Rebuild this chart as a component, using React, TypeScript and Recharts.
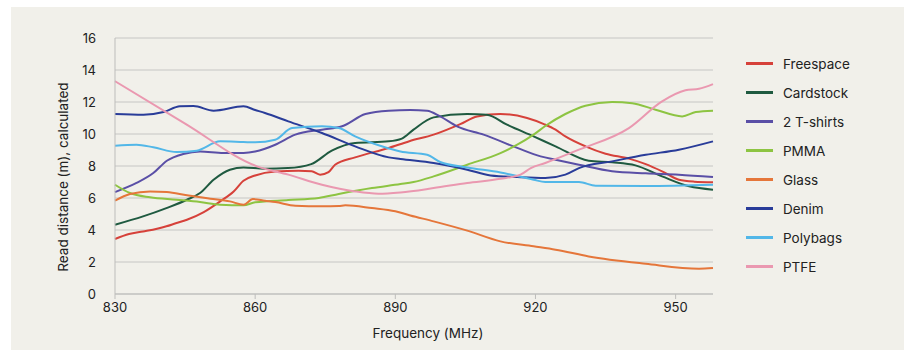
import { LineChart, Line, XAxis, YAxis, CartesianGrid, Legend } from 'recharts';

// [frequency MHz, read distance m]
const freespace: [number, number][] = [
  [830, 3.44], [833, 3.75], [836, 3.91], [839, 4.08], [841, 4.23], [843, 4.42], [845.4, 4.64], [849, 5.12],
  [852.5, 5.79], [855.4, 6.41], [857.5, 7.08], [860, 7.41], [864.3, 7.66], [869.3, 7.71], [872.1, 7.67],
  [873.9, 7.46], [875.7, 7.62], [877.1, 8.08], [881.4, 8.54], [888.6, 9.13], [893, 9.55], [898.2, 9.96],
  [903.9, 10.62], [907.5, 11.1], [912.5, 11.25], [918.2, 11.0], [921.8, 10.62], [924.3, 10.27], [926.4, 9.85],
  [930.7, 9.23], [935, 8.77], [940, 8.46], [943.6, 8.12], [947.1, 7.67], [950.7, 7.14], [954, 7.02], [958, 6.98],
];

const cardstock: [number, number][] = [
  [830, 4.33], [836, 4.85], [841, 5.37], [845.4, 5.89], [848.2, 6.31], [851.1, 7.14], [854.6, 7.77], [857.5, 7.91],
  [862, 7.83], [867, 7.87], [872, 8.12], [876.4, 8.96], [881.4, 9.44], [888.6, 9.54], [891.4, 9.71], [893.9, 10.27],
  [898.2, 11.04], [905.4, 11.25], [909.6, 11.21], [913.9, 10.58], [919.6, 9.85], [924.3, 9.23], [931.4, 8.33],
  [936.4, 8.23], [941.4, 8.04], [947.1, 7.35], [952.9, 6.73], [958, 6.52],
];

const tshirts: [number, number][] = [
  [830, 6.37], [834.6, 6.94], [838.2, 7.56], [841.1, 8.33], [844.6, 8.75], [848.2, 8.91], [853.2, 8.81],
  [857.5, 8.81], [860, 8.9], [862.1, 9.08], [864.3, 9.33], [868.6, 9.96], [874.3, 10.27], [878.6, 10.48],
  [883.6, 11.25], [888.6, 11.46], [893.2, 11.5], [896.8, 11.46], [899.6, 11.1], [903.2, 10.48], [908.9, 9.96],
  [916.1, 9.13], [921.1, 8.6], [924.3, 8.39], [929.3, 8.08], [936.4, 7.67], [943.6, 7.54], [950.7, 7.46], [958, 7.31],
];

const pmma: [number, number][] = [
  [830, 6.83], [833.2, 6.31], [837.5, 6.04], [843.2, 5.89], [848.2, 5.75], [852.5, 5.58], [857.5, 5.54], [860, 5.73],
  [867.1, 5.87], [873.6, 6.0], [877.9, 6.25], [885, 6.62], [891.1, 6.87], [893.9, 7.0], [898.2, 7.35], [905.4, 8.08],
  [912.5, 8.81], [916.1, 9.33], [919.6, 9.96], [922.1, 10.5], [926.4, 11.25], [930.7, 11.77], [936.4, 12.0],
  [940.7, 11.92], [945.7, 11.52], [951.4, 11.1], [954.3, 11.37], [958, 11.46],
];

const glass: [number, number][] = [
  [830, 5.83], [833.2, 6.25], [837.5, 6.41], [841.1, 6.37], [845.4, 6.17], [850.4, 5.96], [854.6, 5.79],
  [857.5, 5.58], [859.5, 5.93], [862.1, 5.83], [864.3, 5.75], [868.6, 5.52], [874.3, 5.48], [877.9, 5.5],
  [879.3, 5.54], [885, 5.37], [890, 5.17], [893.2, 4.91], [898.2, 4.54], [905.4, 3.96], [912.5, 3.29],
  [919.6, 2.98], [924.3, 2.77], [931.4, 2.35], [943.6, 1.89], [955, 1.58], [958, 1.62],
];

const denim: [number, number][] = [
  [830, 11.25], [836.1, 11.2], [840.4, 11.37], [843.9, 11.73], [846.8, 11.75], [851.1, 11.46], [857.5, 11.73],
  [860, 11.5], [862.1, 11.31], [867.1, 10.79], [874.3, 10.06], [881.4, 9.23], [888.6, 8.54], [891.1, 8.44],
  [898.2, 8.19], [905.4, 7.77], [910.4, 7.41], [916.1, 7.31], [922.1, 7.25], [926.4, 7.46], [929.3, 7.87],
  [936.4, 8.29], [943.6, 8.7], [950.7, 9.02], [958, 9.54],
];

const polybags: [number, number][] = [
  [830, 9.27], [834.6, 9.33], [838.2, 9.17], [843.2, 8.87], [847.5, 8.96], [852.5, 9.54], [857.5, 9.5], [860, 9.48],
  [864.3, 9.64], [867.9, 10.37], [874.3, 10.48], [877.9, 10.37], [881.4, 9.85], [887.1, 9.23], [891.1, 8.91],
  [896.8, 8.7], [899.6, 8.25], [905.4, 7.91], [912.5, 7.6], [919.6, 7.14], [922.1, 7.0], [929.3, 7.0],
  [932.9, 6.77], [943.6, 6.75], [958, 6.83],
];

const ptfe: [number, number][] = [
  [830, 13.3], [845, 10.65], [860.4, 7.98], [867.1, 7.46], [874.3, 6.83], [881.4, 6.41], [886.4, 6.27],
  [891.1, 6.35], [898.2, 6.62], [905.4, 6.94], [912.5, 7.2], [916.8, 7.46], [919, 7.87], [922.1, 8.19],
  [929.3, 9.02], [940, 10.37], [947.1, 12.04], [952.1, 12.73], [955, 12.83], [958, 13.12],
];

const series = [
  { name: 'Freespace', color: '#d6413a', points: freespace },
  { name: 'Cardstock', color: '#1f5a40', points: cardstock },
  { name: '2 T-shirts', color: '#5a4fa6', points: tshirts },
  { name: 'PMMA', color: '#8dc442', points: pmma },
  { name: 'Glass', color: '#e5763a', points: glass },
  { name: 'Denim', color: '#293c99', points: denim },
  { name: 'Polybags', color: '#52b7e8', points: polybags },
  { name: 'PTFE', color: '#ea98b0', points: ptfe },
];

const xTicks = [830, 860, 890, 920, 950];
const yTicks = [0, 2, 4, 6, 8, 10, 12, 14, 16];

const FONT = 'Inter, "Noto Sans", sans-serif';

function LegendBox() {
  return (
    <div style={{ fontFamily: FONT }}>
      {series.map((s) => (
        <div key={s.name} style={{ height: 29, display: 'flex', alignItems: 'center' }}>
          <span style={{ display: 'inline-block', width: 27, height: 2.5, background: s.color, marginRight: 10 }} />
          <span style={{ fontSize: 13.5, color: '#222' }}>{s.name}</span>
        </div>
      ))}
    </div>
  );
}

export default function App() {
  return (
    <div style={{ position: 'absolute', left: 11, top: 7, width: 893, height: 343, background: '#f1f0ea' }}>
      <LineChart width={893} height={343} margin={{ top: 31, right: 191, bottom: 26, left: 0 }}>
        <CartesianGrid vertical={false} stroke="#c6c6c4" strokeWidth={1} />
        <XAxis
          type="number"
          dataKey="f"
          domain={[830, 958]}
          ticks={xTicks}
          allowDuplicatedCategory={false}
          height={30}
          tickSize={5}
          tickMargin={4}
          stroke="#bdbdbb"
          tick={{ fill: '#222', fontSize: 13, fontFamily: FONT }}
          label={{
            content: () => (
              <text x={417} y={326} textAnchor="middle" dominantBaseline="central" fontSize={13.5} fill="#222" fontFamily={FONT}>
                Frequency (MHz)
              </text>
            ),
          }}
        />
        <YAxis
          type="number"
          domain={[0, 16]}
          ticks={yTicks}
          width={104}
          tickLine={false}
          tickMargin={13}
          stroke="#bdbdbb"
          tick={{ fill: '#222', fontSize: 13, fontFamily: FONT }}
          label={{
            content: () => (
              <text x={52} y={170} transform="rotate(-90 52 170)" textAnchor="middle" dominantBaseline="central" fontSize={13.5} fill="#222" fontFamily={FONT}>
                Read distance (m), calculated
              </text>
            ),
          }}
        />
        <Legend
          layout="vertical"
          align="center"
          verticalAlign="middle"
          content={() => <LegendBox />}
          wrapperStyle={{ left: 735, top: 42, width: 150 }}
        />
        {series.map((s) => (
          <Line
            key={s.name}
            name={s.name}
            data={s.points.map(([f, v]) => ({ f, v }))}
            dataKey="v"
            type="monotone"
            stroke={s.color}
            strokeWidth={2}
            dot={false}
            activeDot={false}
            isAnimationActive={false}
          />
        ))}
      </LineChart>
    </div>
  );
}
